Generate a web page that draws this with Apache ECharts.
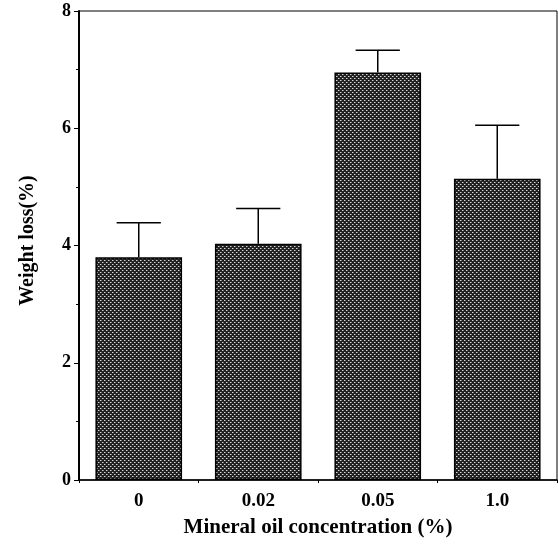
<!DOCTYPE html>
<html>
<head>
<meta charset="utf-8">
<script src="https://cdn.jsdelivr.net/npm/echarts@6/dist/echarts.min.js"></script>
<style>html,body{margin:0;padding:0;background:#fff;}#c{width:558px;height:544px;}</style>
</head>
<body>
<div id="c"></div>
<script>
const categories = ['0', '0.02', '0.05', '1.0'];
const weightLoss = [3.80, 4.03, 6.95, 5.14];
const errorTop = [4.39, 4.63, 7.33, 6.05];
const yTicks = [0, 2, 4, 6, 8];

function makePattern() {
  const c = document.createElement('canvas');
  c.width = 4; c.height = 4;
  const g = c.getContext('2d');
  g.fillStyle = '#222';
  g.fillRect(0, 0, 4, 4);
  g.fillStyle = '#d8d8d8';
  g.fillRect(0, 0, 1, 1);
  g.fillRect(2, 2, 1, 1);
  g.fillStyle = '#777';
  g.fillRect(1, 0, 1, 1);
  g.fillRect(3, 2, 1, 1);
  return c;
}

const serif = 'Liberation Serif';
const chart = echarts.init(document.getElementById('c'), null, {renderer: 'canvas'});
chart.setOption({
  animation: false,
  backgroundColor: '#fff',
  grid: {left: 79, right: 1, top: 11, bottom: 64, show: true, borderColor: '#000', borderWidth: 1},
  xAxis: {
    type: 'category',
    data: categories,
    name: 'Mineral oil concentration (%)',
    nameLocation: 'middle',
    nameGap: 37,
    nameTextStyle: {fontFamily: serif, fontWeight: 'bold', fontSize: 21, color: '#000'},
    axisLine: {lineStyle: {color: '#000', width: 1.5}},
    axisTick: {show: true, length: 3, lineStyle: {color: '#000'}},
    axisLabel: {fontFamily: serif, fontWeight: 'bold', fontSize: 19, color: '#000', margin: 12},
    splitLine: {show: false}
  },
  yAxis: {
    type: 'value',
    min: yTicks[0],
    max: yTicks[yTicks.length - 1],
    interval: 2,
    name: 'Weight loss(%)',
    nameLocation: 'middle',
    nameGap: 41,
    nameTextStyle: {fontFamily: serif, fontWeight: 'bold', fontSize: 20, color: '#000', padding: [0, 0, 0, 10]},
    axisLine: {show: true, lineStyle: {color: '#000', width: 2}},
    axisTick: {show: true, length: 5, lineStyle: {color: '#000'}},
    minorTick: {show: true, splitNumber: 2, length: 3, lineStyle: {color: '#000'}},
    axisLabel: {fontFamily: serif, fontWeight: 'bold', fontSize: 18, color: '#000', margin: 8},
    splitLine: {show: false}
  },
  series: [
    {
      type: 'bar',
      data: weightLoss,
      barWidth: '72.5%',
      itemStyle: {color: {image: makePattern(), repeat: 'repeat'}, borderColor: '#000', borderWidth: 1.5},
      z: 2
    },
    {
      type: 'custom',
      data: errorTop.map((t, i) => [i, weightLoss[i], t]),
      renderItem: function (params, api) {
        const i = api.value(0);
        const base = api.coord([i, api.value(1)]);
        const top = api.coord([i, api.value(2)]);
        const bw = api.size([1, 0])[0];
        const half = bw * 0.185;
        const st = {stroke: '#000', lineWidth: 1.5};
        return {
          type: 'group',
          children: [
            {type: 'line', shape: {x1: base[0], y1: base[1], x2: top[0], y2: top[1]}, style: st},
            {type: 'line', shape: {x1: top[0] - half, y1: top[1], x2: top[0] + half, y2: top[1]}, style: st}
          ]
        };
      },
      z: 3
    }
  ]
});
</script>
</body>
</html>
